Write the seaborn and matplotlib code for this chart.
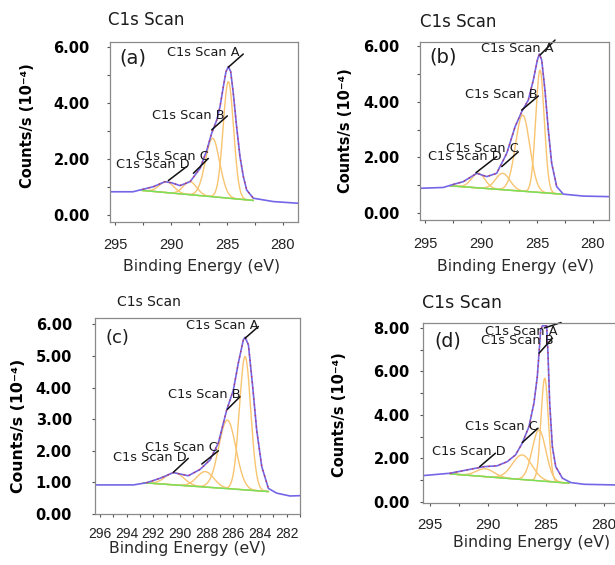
import numpy as np
import pandas as pd
import matplotlib
matplotlib.use("Agg")
import matplotlib.pyplot as plt
import seaborn as sns
from matplotlib.ticker import MultipleLocator, FormatStrFormatter

sns.set_theme(style="white")
plt.rcParams["font.family"] = ["DejaVu Sans"]

# ------------------------------------------------------------------ data
panel_tags = ["(a)", "(b)", "(c)", "(d)"]
component_names = ["C1s Scan A", "C1s Scan B", "C1s Scan C", "C1s Scan D"]
title_text = "C1s Scan"
x_label = "Binding Energy (eV)"
y_label = "Counts/s (10\u207b\u2074)"

# measured envelope spectra: binding energy (eV) / counts (x1e-4 /s)
env_a_ev = [295.45, 293.4, 292.5, 291.58, 290.54, 289.94, 289.2, 288.3, 287.4, 286.8,
            286.37, 285.92, 285.625, 285.33, 285.09, 284.88, 284.67, 284.44, 284.14,
            283.84, 283.54, 283.24, 282.65, 280.87, 278.66]
env_a_counts = [0.83, 0.83, 0.92, 1.01, 1.19, 1.15, 1.05, 1.19, 1.67, 2.32,
                2.92, 3.39, 3.87, 4.58, 5.12, 5.30, 5.12, 4.35, 3.15,
                2.08, 1.37, 0.89, 0.60, 0.48, 0.42]

env_b_ev = [295.45, 293.37, 292.47, 291.58, 290.38, 289.49, 288.6, 287.7, 286.96, 286.37,
            285.78, 285.33, 284.97, 284.79, 284.58, 284.29, 283.99, 283.69, 283.24,
            282.65, 280.87, 278.57]
env_b_counts = [0.89, 0.92, 1.03, 1.13, 1.43, 1.31, 1.43, 2.15, 3.10, 3.64,
                4.06, 4.78, 5.50, 5.72, 5.50, 4.42, 2.99, 1.79, 0.95,
                0.68, 0.61, 0.59]

env_c_ev = [296.38, 293.5, 292.5, 291.5, 290.5, 289.38, 288.5, 287.75, 287.13, 286.5,
            286.0, 285.63, 285.25, 285.12, 284.87, 284.55, 284.25, 283.87, 283.37,
            282.75, 281.75, 281.0]
env_c_counts = [0.92, 0.92, 0.99, 1.13, 1.31, 1.21, 1.41, 1.71, 2.24, 3.29,
                3.92, 4.77, 5.51, 5.59, 5.35, 4.03, 2.66, 1.50, 0.81,
                0.66, 0.57, 0.58]

env_d_ev = [295.61, 293.27, 291.82, 290.38, 289.22, 288.35, 287.63, 287.05, 286.47, 286.04,
            285.75, 285.6, 285.46, 285.31, 284.94, 284.83, 284.68, 284.45, 284.16,
            283.58, 282.86, 281.7, 278.96]
env_d_counts = [1.21, 1.32, 1.47, 1.62, 1.66, 1.85, 2.16, 2.70, 3.46, 4.54,
                5.76, 6.84, 7.91, 8.10, 8.10, 6.84, 4.54, 2.54, 1.62,
                1.09, 0.89, 0.81, 0.78]

# linear background endpoints
bg_a_ev, bg_a_counts = [292.6, 282.65], [0.88, 0.52]
bg_b_ev, bg_b_counts = [292.77, 282.8], [0.98, 0.68]
bg_c_ev, bg_c_counts = [292.75, 283.37], [0.99, 0.71]
bg_d_ev, bg_d_counts = [293.27, 283.0], [1.29, 0.86]

# fitted components A-D: centre (eV), height above background, FWHM (eV)
comp_a_center, comp_a_height, comp_a_fwhm = [284.88, 286.29, 288.3, 290.4], [4.16, 2.09, 0.47, 0.39], [1.1, 1.5, 1.4, 1.5]
comp_b_center, comp_b_height, comp_b_fwhm = [284.73, 286.28, 288.06, 290.24], [4.40, 2.74, 0.59, 0.53], [0.9, 1.5, 1.5, 1.4]
comp_c_center, comp_c_height, comp_c_fwhm = [285.12, 286.45, 288.1, 290.4], [4.22, 2.17, 0.49, 0.39], [1.0, 1.5, 1.5, 1.6]
comp_d_center, comp_d_height, comp_d_fwhm = [285.11, 285.6, 287.05, 290.23], [4.74, 2.34, 1.13, 0.36], [0.75, 1.4, 2.0, 1.8]

# ------------------------------------------------------------------ layout
W, H = 615, 565
def fx(px): return px / W
def fy(py): return 1 - py / H

panels = [
    dict(env=(env_a_ev, env_a_counts), bg=(bg_a_ev, bg_a_counts),
         comp=(comp_a_center, comp_a_height, comp_a_fwhm),
         box=(110, 298, 42, 222), xlim=(295.45, 278.66), ylim=(-0.25, 6.18),
         xmaj=5, xmin=2.5, ymaj=2, ymin=1, ypad=12, xpad=9, xfs=10.5,
         title=(108, 20, 12), ylab=(27, 126, 10.5), xlab=(202, 267), tag=(133, 58, 14),
         ann=[((284.88, 5.28), (283.55, 5.75), (283.84, 5.82)),
              ((286.37, 3.04), (284.97, 3.54), (285.18, 3.57)),
              ((288.0, 1.49), (286.67, 2.02), (286.67, 2.08)),
              ((290.24, 1.23), (288.6, 1.73), (288.3, 1.79))]),
    dict(env=(env_b_ev, env_b_counts), bg=(bg_b_ev, bg_b_counts),
         comp=(comp_b_center, comp_b_height, comp_b_fwhm),
         box=(420, 609, 42, 220), xlim=(295.45, 278.57), ylim=(-0.25, 6.15),
         xmaj=5, xmin=2.5, ymaj=2, ymin=1, ypad=12, xpad=10, xfs=10.5,
         title=(420, 22, 12), ylab=(345, 131, 10.5), xlab=(516, 267), tag=(443, 57, 14),
         ann=[((284.73, 5.68), (283.39, 6.22), (283.54, 5.9)),
              ((286.37, 3.70), (284.88, 4.21), (284.97, 4.27)),
              ((288.15, 1.67), (286.67, 2.2), (286.67, 2.33)),
              ((290.45, 1.45), (288.6, 2.03), (288.15, 2.03))]),
    dict(env=(env_c_ev, env_c_counts), bg=(bg_c_ev, bg_c_counts),
         comp=(comp_c_center, comp_c_height, comp_c_fwhm),
         box=(95, 300, 318, 514), xlim=(296.38, 281.0), ylim=(0.0, 6.2),
         xmaj=2, xmin=1, ymaj=1, ymin=None, ypad=14, xpad=7, xfs=10,
         title=(117, 302, 10), ylab=(19, 426, 11.3), xlab=(188, 548), tag=(117, 338, 13),
         ann=[((285.12, 5.56), (284.12, 5.93), (284.12, 5.95)),
              ((286.45, 3.31), (285.5, 3.71), (285.5, 3.77)),
              ((288.37, 1.58), (287.12, 2.0), (287.2, 2.10)),
              ((290.5, 1.32), (289.38, 1.76), (289.5, 1.79))]),
    dict(env=(env_d_ev, env_d_counts), bg=(bg_d_ev, bg_d_counts),
         comp=(comp_d_center, comp_d_height, comp_d_fwhm),
         box=(423, 616, 323, 503), xlim=(295.61, 278.96), ylim=(-0.05, 8.23),
         xmaj=5, xmin=2.5, ymaj=2, ymin=1, ypad=7, xpad=8, xfs=10.8,
         title=(422, 303, 12.5), ylab=(339, 415, 10.5), xlab=(532, 543), tag=(448, 341, 13.7),
         ann=[((285.15, 8.0), (283.7, 8.25), (284.01, 7.86)),
              ((285.6, 6.84), (284.44, 7.53), (284.31, 7.42)),
              ((287.05, 2.73), (285.69, 3.39), (285.69, 3.49)),
              ((290.72, 1.62), (289.36, 2.24), (288.5, 2.34))]),
]

ENV_COLOR = "#7466e6"
RAW_COLOR = "#c8283f"
COMP_COLOR = "#f8c470"
BG_COLOR = "#78e05a"
TXT = "#1c1c1c"

fig = plt.figure(figsize=(W / 100, H / 100), dpi=100)
fig.patch.set_facecolor("white")

for tag, p in zip(panel_tags, panels):
    l, r, t, b = p["box"]
    ax = fig.add_axes([fx(l), fy(b), (r - l) / W, (b - t) / H])
    ax.set_facecolor("white")

    bg_ev, bg_ct = p["bg"]
    slope = (bg_ct[0] - bg_ct[1]) / (bg_ev[0] - bg_ev[1])
    grid = np.linspace(bg_ev[1], bg_ev[0], 400)
    bg_line = bg_ct[1] + slope * (grid - bg_ev[1])

    rows = []
    for name, c, h, w in zip(component_names, *p["comp"]):
        sig = w / 2.3548
        prof = bg_line + h * np.exp(-0.5 * ((grid - c) / sig) ** 2)
        rows.append(pd.DataFrame({"ev": grid, "counts": prof, "component": name}))
    comp_df = pd.concat(rows, ignore_index=True)
    sns.lineplot(data=comp_df, x="ev", y="counts", units="component", estimator=None,
                 color=COMP_COLOR, lw=1.0, ax=ax, sort=False)

    bg_df = pd.DataFrame({"ev": bg_ev, "counts": bg_ct})
    sns.lineplot(data=bg_df, x="ev", y="counts", color=BG_COLOR, lw=1.1, ax=ax)

    env_df = pd.DataFrame({"ev": p["env"][0], "counts": p["env"][1]})
    sns.lineplot(data=env_df, x="ev", y="counts", color=ENV_COLOR, lw=1.2, ax=ax, sort=False)
    fit = env_df[(env_df.ev <= bg_ev[0]) & (env_df.ev >= bg_ev[1])]
    sns.lineplot(data=fit, x="ev", y="counts", color=RAW_COLOR, lw=1.0, ax=ax,
                 sort=False, linestyle=(0, (1, 3)), alpha=0.8)

    ax.set_xlim(*p["xlim"])
    ax.set_ylim(*p["ylim"])
    ax.set_xlabel("")
    ax.set_ylabel("")
    ax.xaxis.set_major_locator(MultipleLocator(p["xmaj"]))
    ax.xaxis.set_minor_locator(MultipleLocator(p["xmin"]))
    ax.yaxis.set_major_locator(MultipleLocator(p["ymaj"]))
    if p["ymin"]:
        ax.yaxis.set_minor_locator(MultipleLocator(p["ymin"]))
    ax.yaxis.set_major_formatter(FormatStrFormatter("%.2f"))
    ax.xaxis.set_major_formatter(FormatStrFormatter("%d"))
    ax.tick_params(axis="both", which="both", direction="out", length=2.5, width=0.8,
                   color="#555555", bottom=True, left=True)
    ax.tick_params(axis="y", which="major", pad=p["ypad"], labelsize=10.5, labelcolor="black")
    ax.tick_params(axis="x", which="major", pad=p["xpad"], labelsize=p["xfs"], labelcolor="#222222")
    for lab in ax.get_yticklabels():
        lab.set_fontweight("bold")
    for lab in ax.get_xticklabels():
        lab.set_fontfamily("Liberation Sans")
    for s in ax.spines.values():
        s.set_color("#8a8a8a")
        s.set_linewidth(0.9)

    for name, ((x0, y0), (x1, y1), (xt, yt)) in zip(component_names, p["ann"]):
        ax.plot([x0, x1], [y0, y1], color="#111111", lw=1.1, clip_on=False)
        ax.text(xt, yt, name, ha="right", va="center", fontsize=9.3, color=TXT)

    tx, ty, tfs = p["tag"]
    fig.text(fx(tx), fy(ty), tag, ha="center", va="center", fontsize=tfs, color=TXT)
    ttx, tty, ttfs = p["title"]
    fig.text(fx(ttx), fy(tty), title_text, ha="left", va="center", fontsize=ttfs, color=TXT)
    yx, yy, yfs = p["ylab"]
    fig.text(fx(yx), fy(yy), y_label, ha="center", va="center", rotation=90,
             fontsize=yfs, fontweight="bold", color="black")
    xx, xy = p["xlab"]
    fig.text(fx(xx), fy(xy), x_label, ha="center", va="center", fontsize=11.3, color="#2a2a2a")

fig.savefig("out.png", dpi=100, facecolor="white")
